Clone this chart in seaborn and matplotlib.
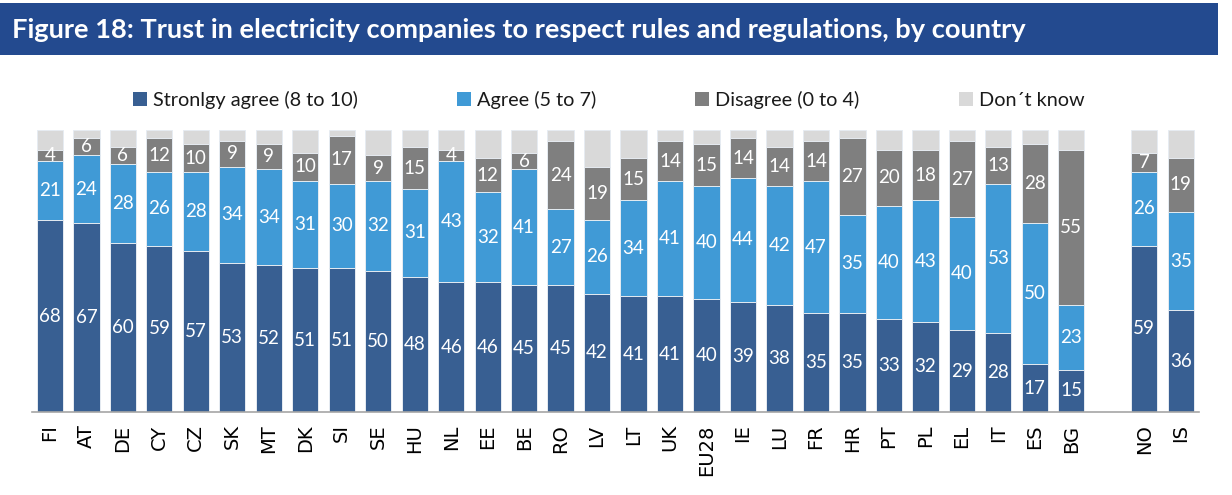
import numpy as np
import pandas as pd
import matplotlib
matplotlib.use("Agg")
import matplotlib.pyplot as plt
import seaborn as sns
from matplotlib.patches import Patch, Rectangle
from matplotlib.ticker import FixedLocator

# ---------------- data ----------------
countries = ["FI", "AT", "DE", "CY", "CZ", "SK", "MT", "DK", "SI", "SE", "HU", "NL",
             "EE", "BE", "RO", "LV", "LT", "UK", "EU28", "IE", "LU", "FR", "HR", "PT",
             "PL", "EL", "IT", "ES", "BG", "NO", "IS"]
strongly_agree = [68, 67, 60, 59, 57, 53, 52, 51, 51, 50, 48, 46, 46, 45, 45, 42, 41, 41,
                  40, 39, 38, 35, 35, 33, 32, 29, 28, 17, 15, 59, 36]
agree = [21, 24, 28, 26, 28, 34, 34, 31, 30, 32, 31, 43, 32, 41, 27, 26, 34, 41,
         40, 44, 42, 47, 35, 40, 43, 40, 53, 50, 23, 26, 35]
disagree = [4, 6, 6, 12, 10, 9, 9, 10, 17, 9, 15, 4, 12, 6, 24, 19, 15, 14,
            15, 14, 14, 14, 27, 20, 18, 27, 13, 28, 55, 7, 19]
dont_know = [7, 3, 6, 3, 5, 4, 5, 8, 2, 9, 6, 7, 10, 8, 4, 13, 10, 4,
             5, 3, 6, 4, 3, 7, 7, 4, 6, 5, 7, 8, 10]
series_names = ["Stronlgy agree (8 to 10)", "Agree (5 to 7)", "Disagree (0 to 4)", "Don\u00b4t know"]
gap_label = ""
order = countries[:29] + [gap_label] + countries[29:]

colors = ["#385F92", "#409AD6", "#7F7F7F", "#D9D9D9"]
title = "Figure 18: Trust in electricity companies to respect rules and regulations, by country"

# ---------------- frame ----------------
df = pd.DataFrame({"country": countries,
                   "s": strongly_agree, "a": agree, "d": disagree, "k": dont_know})
df["c1"] = df["s"]
df["c2"] = df["c1"] + df["a"]
df["c3"] = df["c2"] + df["d"]
df["c4"] = df["c3"] + df["k"]

sns.set_theme(style="white")
plt.rcParams["font.family"] = ["Lato", "DejaVu Sans"]

fig = plt.figure(figsize=(12.32, 4.95), dpi=100)
ax = fig.add_axes([0.0257, 0.1677, 0.9475, 0.5697])

bar_w = 0.72
for col, colr in zip(["c4", "c3", "c2", "c1"], colors[::-1]):
    sns.barplot(data=df, x="country", y=col, order=order, color=colr, saturation=1,
                width=bar_w, errorbar=None, edgecolor="#E6ECF2", linewidth=0.7, ax=ax)

# value labels
for i, row in df.iterrows():
    xpos = order.index(row["country"])
    for lo, hi, val in [(0, row["c1"], row["s"]), (row["c1"], row["c2"], row["a"]),
                        (row["c2"], row["c3"], row["d"])]:
        ax.text(xpos, (lo + hi) / 2, f"{val}", ha="center", va="center",
                color="white", fontsize=13.5, family="Lato")

ax.set_xlim(-0.5, len(order) - 0.5)
ax.set_ylim(0, 100)
ax.set_xlabel("")
ax.set_ylabel("")
ax.set_yticks([])
for sp in ["left", "right", "top"]:
    ax.spines[sp].set_visible(False)
ax.spines["bottom"].set_color("#A6A6A6")
ax.spines["bottom"].set_linewidth(1.2)

ax.set_xticks(range(len(order)))
ax.set_xticklabels(order, rotation=90, family="DejaVu Sans", fontsize=14, color="#000000")
ax.tick_params(axis="x", which="major", length=0, pad=9)
ax.xaxis.set_minor_locator(FixedLocator(np.arange(-0.5, len(order), 1.0)))
ax.tick_params(axis="x", which="minor", length=6, width=1.2, color="#A6A6A6", direction="out")

# legend
handles = [Patch(facecolor=c, edgecolor="none") for c in colors]
fig.legend(handles, series_names, loc="center", bbox_to_anchor=(0.494, 0.798), ncol=4,
           frameon=False, fontsize=14.3, handlelength=0.7, handleheight=0.7,
           handletextpad=0.3, columnspacing=5.0, labelcolor="#1a1a1a")

# title bar
fig.patches.append(Rectangle((0, 1 - 55 / 495), 1218 / 1232, 52 / 495,
                             transform=fig.transFigure, facecolor="#234A8F",
                             edgecolor="none", zorder=0))
fig.text(12 / 1232, 1 - 30 / 495, title, color="white", fontsize=19.6,
         fontweight="bold", family="Lato", ha="left", va="center")

fig.savefig("out.png", dpi=100)
